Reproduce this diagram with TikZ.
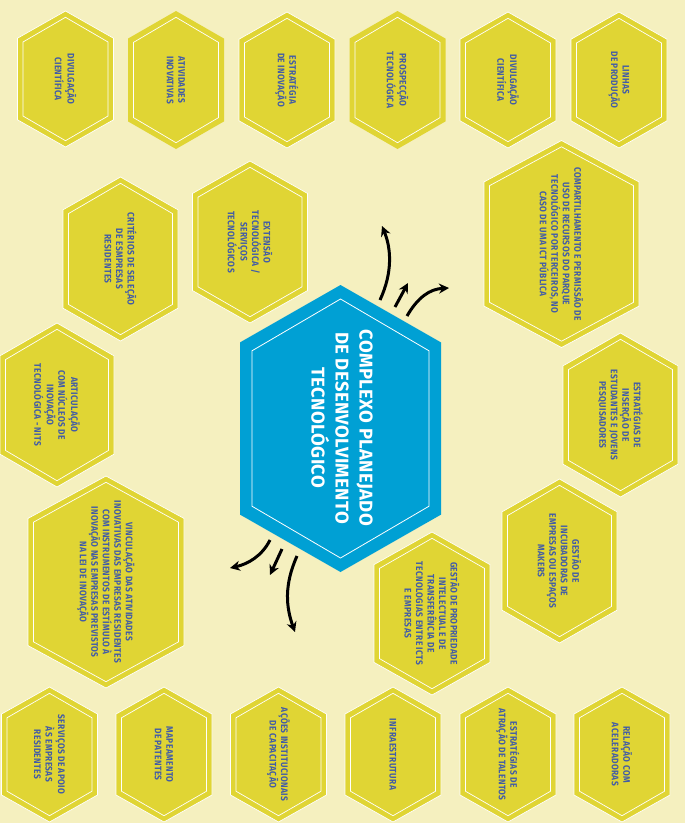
\documentclass[tikz,border=0pt]{standalone}
\usepackage{fontspec}
\usepackage{tikz}
\usetikzlibrary{arrows.meta}
\newfontfamily\hexfont{Fira Sans}[FakeStretch=0.88, LetterSpace=4]
\newfontfamily\corefont{Fira Sans}[LetterSpace=2]
\definecolor{PaperYellow}{RGB}{245,240,191}
\definecolor{HexYellow}{RGB}{224,213,52}
\definecolor{HexBlue}{RGB}{66,92,166}
\definecolor{CoreCyan}{RGB}{0,160,212}

\tikzset{
  hextext/.style={font=\hexfont\bfseries\fontsize{9.5}{11.5}\selectfont, text=HexBlue, align=center, rotate=-90, inner sep=0pt},
  coretext/.style={font=\corefont\bfseries\fontsize{18.5}{24}\selectfont, text=white, align=center, rotate=-90, inner sep=0pt},
  bigarrow/.style={line width=3pt, -{Stealth[length=10pt,width=10pt]}}
}

% hexagon with a point on top: x, y, half width, half height
\newcommand{\hexshape}[5][]{%
  \path[#1] ({#2},{#3-(#5)}) -- ({#2+(#4)},{#3-0.6*(#5)}) -- ({#2+(#4)},{#3+0.6*(#5)})
    -- ({#2},{#3+(#5)}) -- ({#2-(#4)},{#3+0.6*(#5)}) -- ({#2-(#4)},{#3-0.6*(#5)}) -- cycle;}

% yellow cell: name, x, y, half width, half height, text
\newcommand{\hexcell}[7][draw=white]{%
  \hexshape[fill=HexYellow, line width=0.7pt, #1]{#3}{#4}{#5}{#6}
  \hexshape[draw=white, line width=0.7pt]{#3}{#4}{#5-5.5}{#6-6.3}
  \node[hextext] (#2) at (#3,#4) {#7};}

\begin{document}
\begin{tikzpicture}[x=1pt, y=-1pt]
% Background
\fill[PaperYellow] (0,0) rectangle (685,823);
\useasboundingbox (0,0) rectangle (685,823);

% Top row
\hexcell{divA}{65.5}{79}{48}{68}{DIVULGAÇÃO\\CIENTÍFICA}
\hexcell[]{ativ}{176}{80}{48}{69}{ATIVIDADES\\INOVATIVAS}
\hexcell{estrInov}{287}{80}{48}{68}{ESTRATÉGIA\\DE INOVAÇÃO}
\hexcell[]{prosp}{397.5}{80}{48}{69}{PROSPECÇÃO\\TECNOLÓGICA}
\hexcell{divB}{508}{80}{48}{68}{DIVULGAÇÃO\\CIENTÍFICA}
\hexcell{linhas}{619}{80}{48}{68}{LINHAS\\DE PRODUÇÃO}

% Middle ring
\hexcell{ext}{250}{242}{57.5}{81}{EXTENSÃO\\TECNOLÓGICA /\\SERVIÇOS\\TECNOLÓGICOS}
\hexcell{comp}{561.5}{244}{77.5}{103.5}{COMPARTILHAMENTO E PERMISSÃO DE\\USO DE RECURSOS DO PARQUE\\TECNOLÓGICO POR TERCEIROS, NO\\CASO DE UMA ICT PÚBLICA}
\hexcell{crit}{120.5}{259}{57.5}{82}{CRITÉRIOS DE SELEÇÃO\\DE ESMPRESAS\\RESIDENTES}
\hexcell{artic}{57}{405}{57}{82}{ARTICULAÇÃO\\COM NÚCLEOS DE\\INOVAÇÃO\\TECNOLÓGICA - NITS}
\hexcell{insercao}{620.5}{415}{57.5}{82}{ESTRATÉGIAS DE\\INSERÇÃO DE\\ESTUDANTES E JOVENS\\PESQUISADORES}
\hexcell{incub}{559.5}{561}{57.5}{82}{GESTÃO DE\\INCUBADORAS DE\\EMPRESAS OU ESPAÇOS\\MAKERS}
\hexcell{vinc}{106}{582}{78}{106}{VINCULAÇÃO DAS ATIVIDADES\\INOVATIVAS DAS EMPRESAS RESIDENTES\\COM INSTRUMENTOS DE ESTÍMULO À\\INOVAÇÃO NAS EMPRESAS PREVISTOS\\NA LEI DE INOVAÇÃO}
\hexcell{propr}{432}{613.5}{58}{81.5}{GESTÃO DE PROPRIEDADE\\INTELECTUAL E DE\\TRANSFERÊNCIA DE\\TECNOLOGIAS ENTRE ICTS\\E EMPRESAS}

% Bottom row
\hexcell{apoio}{49.5}{754.5}{48}{67.5}{SERVIÇOS DE APOIO\\ÀS EMPRESAS\\RESIDENTES}
\hexcell{patentes}{164}{754.5}{48}{67.5}{MAPEAMENTO\\DE PATENTES}
\hexcell{capac}{278.5}{754.5}{48}{67.5}{AÇÕES INSTITUCIONAIS\\DE CAPACITAÇÃO}
\hexcell{infra}{393}{754.5}{48}{67.5}{INFRAESTRUTURA}
\hexcell{talentos}{508}{754.5}{48}{67.5}{ESTRATÉGIAS DE\\ATRAÇÃO DE TALENTOS}
\hexcell{acel}{622}{754.5}{48}{67.5}{RELAÇÃO COM\\ACELERADORAS}

% Central hexagon
\hexshape[fill=CoreCyan]{340.5}{428.5}{100.5}{143.5}
\hexshape[draw=white, line width=0.8pt]{340.5}{428.5}{88.5}{129.5}
\node[coretext] (core) at (342,428) {COMPLEXO PLANEJADO\\DE DESENVOLVIMENTO\\TECNOLÓGICO};

% Arrows out of the centre
\coordinate (upAs) at (380,300);  \coordinate (upAe) at (382,226);
\coordinate (upBs) at (395,307);  \coordinate (upBe) at (408,283);
\coordinate (upCs) at (407,316);  \coordinate (upCe) at (449,288);
\coordinate (dnAs) at (270,540);  \coordinate (dnAe) at (230,568);
\coordinate (dnBs) at (282,549);  \coordinate (dnBe) at (270,575);
\coordinate (dnCs) at (297,556);  \coordinate (dnCe) at (295,632);

\draw[bigarrow] (upAs) .. controls (393,272) and (391,248) .. (upAe);
\draw[bigarrow] (upBs) -- (upBe);
\draw[bigarrow] (upCs) .. controls (418,297) and (430,289) .. (upCe);
\draw[bigarrow] (dnAs) .. controls (262,556) and (248,564) .. (dnAe);
\draw[bigarrow] (dnBs) -- (dnBe);
\draw[bigarrow] (dnCs) .. controls (284,585) and (286,607) .. (dnCe);

\end{tikzpicture}
\end{document}
